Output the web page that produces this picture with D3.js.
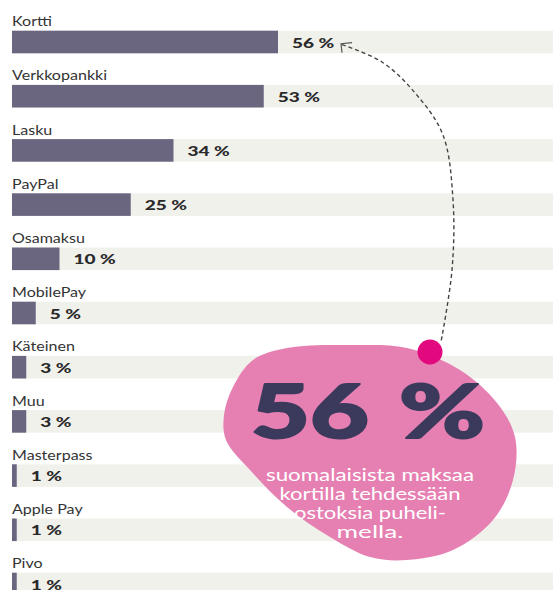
<!DOCTYPE html>
<html>
<head>
<meta charset="utf-8">
<script src="https://cdn.jsdelivr.net/npm/d3@7"></script>
<style>
html,body{margin:0;padding:0;background:#fff;}
svg{display:block;}
</style>
</head>
<body>
<svg id="chart" width="553" height="590"></svg>
<script>
const categories = ["Kortti","Verkkopankki","Lasku","PayPal","Osamaksu","MobilePay","Käteinen","Muu","Masterpass","Apple Pay","Pivo"];
const values = [56,53,34,25,10,5,3,3,1,1,1];
const valueLabels = ["56 %","53 %","34 %","25 %","10 %","5 %","3 %","3 %","1 %","1 %","1 %"];
const bigNumber = ["56","%"];
const calloutLines = ["suomalaisista maksaa","kortilla tehdessään","ostoksia puheli-","mella."];

const W = 553, H = 590;
const svg = d3.select("#chart");
const FONT = "Lato, 'Open Sans', sans-serif";

const x = d3.scaleLinear().domain([0, 100]).range([0, 475]);
const left = 12;
const y = d3.scaleLinear().domain([0, 1]).range([30.7, 84.9]);
const bandH = 22.6;

// background bands
svg.append("g").selectAll("rect").data(categories).join("rect")
  .attr("x", left).attr("y", (d,i) => y(i)).attr("width", W - left).attr("height", bandH)
  .attr("fill", "#f1f1ec");

// bars
svg.append("g").selectAll("rect").data(values).join("rect")
  .attr("x", left).attr("y", (d,i) => y(i)).attr("width", d => x(d)).attr("height", bandH)
  .attr("fill", "#6b6680");

// category labels (horizontally widened to match the reference lettering)
svg.append("g").selectAll("text").data(categories).join("text")
  .attr("transform", (d,i) => `translate(${left},${y(i) - 4.6}) scale(1.19,1)`)
  .attr("font-family", FONT).attr("font-size", 13.5)
  .attr("fill", "#333").text(d => d);

// value labels
svg.append("g").selectAll("text").data(values).join("text")
  .attr("transform", (d,i) => `translate(${left + x(d) + 14},${y(i) + 16.8}) scale(1.36,1)`)
  .attr("font-family", FONT).attr("font-size", 14)
  .attr("font-weight", 900).attr("fill", "#2a2a2a")
  .text((d,i) => valueLabels[i]);

// blob
const blobPts = [[233,387],[253,360],[287,348],[353,345],[407,348],[460,370],[497,403],[515,437],[513,480],[493,520],[453,550],[407,560],[370,557],[330,537],[287,507],[250,470],[226,440],[224,415]];
svg.append("path")
  .attr("d", d3.line().curve(d3.curveCatmullRomClosed.alpha(0.5))(blobPts))
  .attr("fill", "#e67fb2");

// dashed connector
const kx = left + x(values[0]) + 14 + 42 + 6, ky = y(0) + 13;
const conn = [[kx + 2, ky + 1],[382,62],[416,94],[443,135],[453,200],[452,270],[441,342]];
svg.append("path")
  .attr("d", d3.line().curve(d3.curveCatmullRom)(conn))
  .attr("fill","none").attr("stroke","#444").attr("stroke-width",1.4)
  .attr("stroke-dasharray","4,3");
// arrowhead
svg.append("path")
  .attr("d", `M${kx+12},${ky-1} L${kx+1},${ky} L${kx+2},${ky+9}`)
  .attr("fill","none").attr("stroke","#555").attr("stroke-width",1.2);

// dot
svg.append("circle").attr("cx", 430).attr("cy", 352).attr("r", 12.5).attr("fill", "#e2097f");

// big number
const big = svg.append("g").attr("font-family", FONT).attr("font-weight", 900)
  .attr("font-size", 74).attr("fill", "#3b3a5c")
  .attr("stroke", "#3b3a5c").attr("stroke-width", 2).attr("stroke-linejoin", "round");
big.append("text").attr("x", 251).attr("y", 438).attr("textLength", 118)
  .attr("lengthAdjust", "spacingAndGlyphs").text(bigNumber[0]);
big.append("text").attr("x", 399).attr("y", 438).attr("textLength", 86)
  .attr("lengthAdjust", "spacingAndGlyphs").text(bigNumber[1]);

// callout text (line widths fitted to the reference lettering)
const lineWidths = [208, 181, 152, 67];
svg.append("g").selectAll("text").data(calloutLines).join("text")
  .attr("x", 370).attr("y", (d,i) => 481 + i*19)
  .attr("text-anchor","middle")
  .attr("textLength", (d,i) => lineWidths[i]).attr("lengthAdjust", "spacingAndGlyphs")
  .attr("font-family", FONT).attr("font-size", 17)
  .attr("fill","#fff").text(d => d);
</script>
</body>
</html>
